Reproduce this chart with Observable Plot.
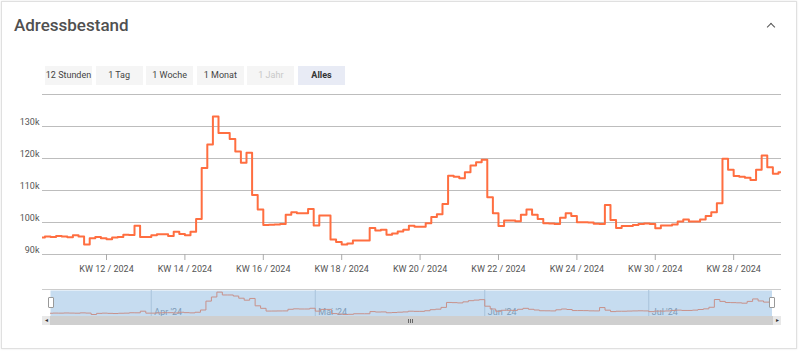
<!DOCTYPE html>
<html><head><meta charset="utf-8">
<script src="https://cdn.jsdelivr.net/npm/d3@7"></script>
<script src="https://cdn.jsdelivr.net/npm/@observablehq/plot@0.6"></script>
<style>
html,body{margin:0;padding:0;}
body{width:800px;height:353px;overflow:hidden;background:#fff;font-family:Roboto,"Noto Sans",sans-serif;position:relative;}
#card{position:absolute;left:1px;top:1px;width:794px;height:346px;border:1px solid #e0e0e0;box-shadow:0 0 2px rgba(0,0,0,.10);background:#fff;}
#title{position:absolute;left:14px;top:15px;font-size:17px;line-height:20px;font-weight:500;color:#505050;}
#chev{position:absolute;left:768px;top:24px;width:5px;height:5px;border-left:1.6px solid #555;border-top:1.6px solid #555;transform:rotate(45deg);}
.btn{position:absolute;top:66px;width:47px;height:19px;line-height:19px;font-size:9px;text-align:center;background:#f5f5f5;color:#444;}
.btn.dis{color:#c8c8c8;}
.btn.act{background:#e8ebf5;font-weight:700;color:#333;}
.abs{position:absolute;}
svg{position:absolute;left:0;top:0;}
</style></head>
<body>
<div id="card"></div>
<div id="title">Adressbestand</div>
<div id="chev"></div>
<div id="buttons"></div>
<div id="main"></div>
<div id="nav"></div>
<script>
// ---- data ----
const startDay = "2024-03-13";           // first daily value
const values = [                        // Adressbestand in thousands, one per day
  95.3,95.6,95.5,95.8,95.6,95.4,96.0,95.6,93.1,95.1,95.5,95.1,94.8,95.3,95.5,96.2,96.1,99.0,95.5,
  95.5,96.0,96.3,96.3,95.8,97.1,96.4,96.0,97.1,101.1,117.0,124.4,133.1,128.0,128.0,126.1,122.2,118.7,121.8,108.6,104.1,99.2,99.3,99.4,99.5,102.4,103.2,102.9,102.9,104.2,
  99.1,102.2,102.2,94.7,93.9,93.1,93.4,94.4,94.4,94.4,98.3,97.5,97.7,96.2,96.6,97.2,97.7,99.0,98.7,98.7,99.8,101.7,102.6,105.8,114.6,114.3,113.8,115.7,117.8,118.8,119.6,
  107.9,102.9,98.9,100.6,100.6,100.4,102.4,104.1,102.4,101.1,99.8,99.7,99.5,101.5,102.9,102.0,100.1,100.1,100.0,99.6,99.5,105.5,100.8,98.3,98.9,98.9,99.2,99.5,99.7,99.5,
  98.2,99.1,99.1,99.4,100.3,100.9,100.3,100.3,100.9,102.0,103.2,106.0,119.9,116.5,114.5,114.3,114.0,113.3,116.5,120.9,117.3,115.2,115.7
];
const xDomain = ["2024-03-13T13:40Z", "2024-07-23T13:00Z"];
const xTickDates = ["2024-03-25","2024-04-08","2024-04-22","2024-05-06","2024-05-20","2024-06-03","2024-06-17","2024-07-01","2024-07-15"];
const xTickLabels = ["KW 12 / 2024","KW 14 / 2024","KW 16 / 2024","KW 18 / 2024","KW 20 / 2024","KW 22 / 2024","KW 24 / 2024","KW 30 / 2024","KW 28 / 2024"];
const yGrid = [90,100,110,120,130,140];
const yTicks = [90,100,110,120,130];
const navMonths = ["2024-04-01","2024-05-01","2024-06-01","2024-07-01"];
const navLabels = ["Apr '24","Mai '24","Jun '24","Jul '24"];
const rangeButtons = ["12 Stunden","1 Tag","1 Woche","1 Monat","1 Jahr","Alles"];

// ---- build ----
const t0 = new Date(xDomain[0]), t1 = new Date(xDomain[1]);
const d0 = new Date(startDay + "T00:00Z");
const series = values.map((v, i) => ({date: d3.utcDay.offset(d0, i), value: v}));
series.push({date: t1, value: values[values.length - 1]});
const tickDates = xTickDates.map(s => new Date(s + "T00:00Z"));
const labelMap = new Map(tickDates.map((d, i) => [+d, xTickLabels[i]]));

// buttons
const bw = document.getElementById("buttons");
rangeButtons.forEach((t, i) => {
  const b = document.createElement("div");
  b.className = "btn" + (t === "1 Jahr" ? " dis" : "") + (t === "Alles" ? " act" : "");
  b.style.left = (45 + i * 50.6) + "px";
  b.textContent = t;
  bw.appendChild(b);
});

const main = Plot.plot({
  width: 800, height: 280,
  marginLeft: 42, marginRight: 19, marginTop: 94, marginBottom: 26,
  style: {fontFamily: "Roboto, sans-serif", fontSize: "9px", color: "#555", background: "transparent", overflow: "visible"},
  x: {type: "utc", domain: [t0, t1]},
  y: {domain: [90, 140]},
  marks: [
    Plot.ruleY(yGrid, {stroke: "#bdbdbd", strokeWidth: 1}),
    Plot.axisY(yTicks, {tickSize: 0, tickPadding: 3, dy: -4, tickFormat: d => d + "k", label: null, fill: "#555"}),
    Plot.axisX(tickDates, {tickSize: 6, tickPadding: 5, tickFormat: d => labelMap.get(+d), label: null, stroke: "#aaa", fill: "#555"}),
    Plot.line(series, {x: "date", y: "value", curve: "step-after", stroke: "#ff6e40", strokeWidth: 2, clip: true})
  ]
});
document.getElementById("main").appendChild(main);

// navigator decorations (HTML)
const deco = [
  {l:42,t:289,w:739,h:1,bg:"#cccccc"},
  {l:42,t:316,w:739,h:9,bg:"#cfcfcf"},
  {l:42,t:316,w:8,h:9,bg:"#e8e8e8"},
  {l:773,t:316,w:8,h:9,bg:"#e8e8e8"},
  {l:408,t:318.5,w:1,h:4,bg:"#666"},{l:410,t:318.5,w:1,h:4,bg:"#666"},{l:412,t:318.5,w:1,h:4,bg:"#666"}
];

const nav = Plot.plot({
  width: 800, height: 353,
  marginLeft: 50, marginRight: 28.5, marginTop: 290, marginBottom: 37,
  style: {fontFamily: "Roboto, sans-serif", fontSize: "9px", background: "transparent", overflow: "visible"},
  x: {type: "utc", domain: [t0, t1]},
  y: {domain: [89.5, 136]},
  axis: null,
  marks: [
    Plot.frame({fill: "#c6dcf0", stroke: null}),
    Plot.ruleX(navMonths.map(s => new Date(s + "T00:00Z")), {stroke: "#a9c3db"}),
    Plot.text(navMonths.map(s => new Date(s + "T00:00Z")), {x: d => d, frameAnchor: "bottom", dy: -2, dx: 3, textAnchor: "start",
      text: (d, i) => navLabels[i], fill: "#7f9cb8", fontSize: 9}),
    Plot.line(series, {x: "date", y: "value", curve: "step-after", stroke: "#c8918a", strokeWidth: 1, clip: true})
  ]
});
document.getElementById("nav").appendChild(nav);

deco.forEach(d => {
  const e = document.createElement("div");
  e.className = "abs";
  Object.assign(e.style, {left: d.l + "px", top: d.t + "px", width: d.w + "px", height: d.h + "px", background: d.bg});
  document.body.appendChild(e);
});
// arrows and handles
[[44.5,"◂"],[775.5,"▸"]].forEach(([l, c]) => {
  const e = document.createElement("div");
  e.className = "abs";
  Object.assign(e.style, {left: l + "px", top: "315px", fontSize: "6px", lineHeight: "10px", color: "#333"});
  e.textContent = c;
  document.body.appendChild(e);
});
[47.5, 768.5].forEach(l => {
  const e = document.createElement("div");
  e.className = "abs";
  Object.assign(e.style, {left: l + "px", top: "297px", width: "4px", height: "9px", background: "#fff", border: "1px solid #999", borderRadius: "1px"});
  document.body.appendChild(e);
});
</script>
</body></html>
